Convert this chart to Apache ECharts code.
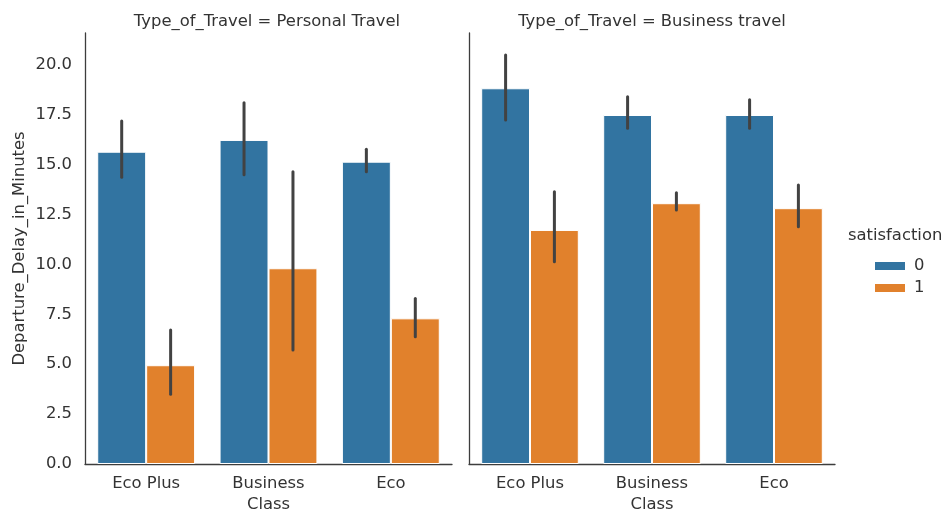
<!DOCTYPE html>
<html>
<head>
<meta charset="utf-8">
<script src="https://cdn.jsdelivr.net/npm/echarts@6/dist/echarts.min.js"></script>
<style>
  html, body { margin: 0; padding: 0; background: #fff; }
  #chart { width: 945px; height: 512px; }
</style>
</head>
<body>
<div id="chart"></div>
<script>
// Mean departure delay by class, split by travel type and satisfaction
const classes = ['Eco Plus', 'Business', 'Eco'];
const panelTitles = ['Type_of_Travel = Personal Travel', 'Type_of_Travel = Business travel'];
const satisfactionLevels = ['0', '1'];

// Personal travel: means and 95% CI bounds
const personalMean0 = [15.65, 16.24, 15.15];
const personalLow0  = [14.37, 14.49, 14.65];
const personalHigh0 = [17.19, 18.11, 15.77];
const personalMean1 = [4.95, 9.81, 7.30];
const personalLow1  = [3.49, 5.71, 6.38];
const personalHigh1 = [6.72, 14.65, 8.30];

// Business travel: means and 95% CI bounds
const businessMean0 = [18.83, 17.49, 17.49];
const businessLow0  = [17.24, 16.83, 16.83];
const businessHigh0 = [20.50, 18.41, 18.25];
const businessMean1 = [11.73, 13.07, 12.82];
const businessLow1  = [10.14, 12.73, 11.89];
const businessHigh1 = [13.65, 13.60, 13.98];

const yTicks = [0, 2.5, 5, 7.5, 10, 12.5, 15, 17.5, 20];

const COLORS = ['#3274a1', '#e1812c'];
const TEXT = '#333333';
const SPINE = '#3d3d3d';
const FONT = 'DejaVu Sans';
const FS = 16.4;

const panels = [
  { mean: [personalMean0, personalMean1], low: [personalLow0, personalLow1], high: [personalHigh0, personalHigh1] },
  { mean: [businessMean0, businessMean1], low: [businessLow0, businessLow1], high: [businessHigh0, businessHigh1] }
];

const chart = echarts.init(document.getElementById('chart'), null, { renderer: 'canvas' });

const grids = [
  { left: 85, right: 493, top: 33, bottom: 48, outerBoundsMode: 'none', containLabel: false },
  { left: 469, right: 110, top: 33, bottom: 48, outerBoundsMode: 'none', containLabel: false }
];

const xAxes = grids.map((g, i) => ({
  type: 'category',
  gridIndex: i,
  data: classes,
  name: 'Class',
  nameLocation: 'middle',
  nameGap: 33,
  nameTextStyle: { color: TEXT, fontFamily: FONT, fontSize: FS },
  axisLine: { show: true, lineStyle: { color: SPINE, width: 1.3 } },
  axisTick: { show: false },
  axisLabel: { color: TEXT, fontFamily: FONT, fontSize: FS, margin: 12 },
  splitLine: { show: false }
}));

const yAxes = grids.map((g, i) => ({
  type: 'value',
  gridIndex: i,
  min: 0,
  max: 21.6,
  interval: 2.5,
  name: i === 0 ? 'Departure_Delay_in_Minutes' : '',
  nameLocation: 'middle',
  nameGap: 57,
  nameTextStyle: { color: TEXT, fontFamily: FONT, fontSize: FS },
  axisLine: { show: true, lineStyle: { color: SPINE, width: 1.3 } },
  axisTick: { show: false },
  splitLine: { show: false },
  axisLabel: {
    show: i === 0,
    color: TEXT, fontFamily: FONT, fontSize: FS, margin: 13,
    showMaxLabel: false,
    formatter: v => (yTicks.indexOf(v) >= 0 ? v.toFixed(1) : '')
  }
}));

const series = [];
panels.forEach((p, pi) => {
  satisfactionLevels.forEach((lvl, si) => {
    series.push({
      type: 'bar',
      name: lvl,
      xAxisIndex: pi,
      yAxisIndex: pi,
      data: p.mean[si],
      barCategoryGap: '20%',
      barGap: '0%',
      itemStyle: { color: COLORS[si], borderColor: '#ffffff', borderWidth: 1 },
      emphasis: { disabled: true },
      z: 2
    });
  });
  // Confidence interval whiskers
  satisfactionLevels.forEach((lvl, si) => {
    series.push({
      type: 'custom',
      name: 'ci-' + pi + '-' + si,
      xAxisIndex: pi,
      yAxisIndex: pi,
      data: classes.map((c, ci) => [ci, p.low[si][ci], p.high[si][ci]]),
      renderItem: function (params, api) {
        const band = api.size([1, 0])[0];
        const offset = (si === 0 ? -1 : 1) * band * 0.2;
        const lo = api.coord([api.value(0), api.value(1)]);
        const hi = api.coord([api.value(0), api.value(2)]);
        const x = lo[0] + offset;
        return {
          type: 'line',
          shape: { x1: x, y1: lo[1], x2: x, y2: hi[1] },
          style: { stroke: '#424242', lineWidth: 3, lineCap: 'round' }
        };
      },
      silent: true,
      z: 5
    });
  });
});

const option = {
  backgroundColor: '#ffffff',
  animation: false,
  textStyle: { fontFamily: FONT },
  title: [
    { text: panelTitles[0], left: 262, top: 9, textAlign: 'center',
      textStyle: { color: TEXT, fontFamily: FONT, fontSize: FS, fontWeight: 'normal' } },
    { text: panelTitles[1], left: 647, top: 9, textAlign: 'center',
      textStyle: { color: TEXT, fontFamily: FONT, fontSize: FS, fontWeight: 'normal' } }
  ],
  legend: {
    data: satisfactionLevels,
    orient: 'vertical',
    left: 868,
    top: 253,
    itemWidth: 32,
    itemHeight: 10,
    itemGap: 6,
    icon: 'rect',
    selectedMode: false,
    textStyle: { color: TEXT, fontFamily: FONT, fontSize: FS, padding: [0, 0, 0, 3] }
  },
  graphic: [
    { type: 'text', left: 848, top: 228,
      style: { text: 'satisfaction', fill: TEXT, font: FS + 'px "' + FONT + '"' } }
  ],
  grid: grids,
  xAxis: xAxes,
  yAxis: yAxes,
  series: series
};

chart.setOption(option);
</script>
</body>
</html>
